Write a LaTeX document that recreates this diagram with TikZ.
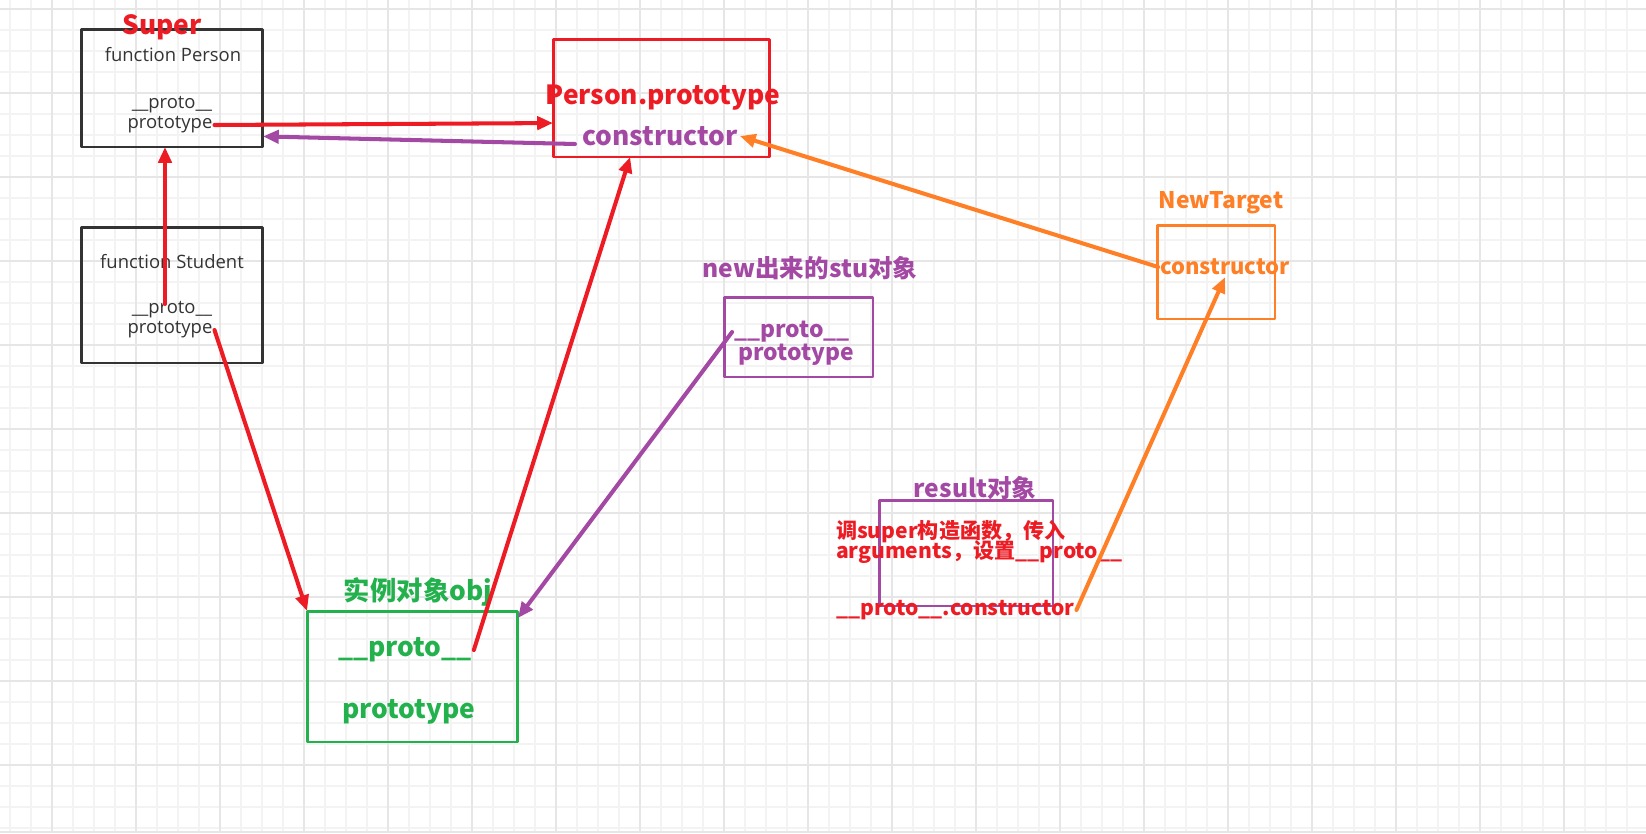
\documentclass[tikz,border=0pt]{standalone}
\usepackage{fontspec}
\setmainfont{Open Sans}
\newfontfamily\cjk{Noto Sans CJK SC}
\usepackage{tikz}
\usetikzlibrary{arrows.meta}
\definecolor{pred}{HTML}{ED1C24}
\definecolor{ppurple}{HTML}{A349A4}
\definecolor{porange}{HTML}{FF7F27}
\definecolor{pgreen}{HTML}{22B14C}
\definecolor{pgray}{HTML}{333333}
\definecolor{gminor}{HTML}{F3F3F3}
\definecolor{gmajor}{HTML}{E6E6E6}

\begin{document}
\begin{tikzpicture}[line cap=round,line join=round,x=0.02cm,y=-0.02cm,
    >={Triangle[length=9pt,width=7.5pt]},
    gridminor/.style={draw=gminor,line width=0.9pt,line cap=butt},
    gridmajor/.style={draw=gmajor,line width=0.9pt,line cap=butt},
    box/.style={draw,line width=1.7pt,inner sep=0pt,outer sep=0pt},
    plain/.style={text=pgray,inner sep=1pt,font=\fontsize{10.5pt}{12pt}\selectfont},
    bold/.style={inner sep=1pt,font=\cjk\bfseries\fontsize{#1}{#1}\selectfont},
    link/.style={->,line width=2.3pt}]
      \useasboundingbox (0,0) rectangle (1646,833);
      \begin{scope}
      \clip (0,0) rectangle (1646,833);
      \foreach \gx in {10,31,...,1646} \draw [gridminor] (\gx,0) -- (\gx,833);
      \foreach \gy in {9,30,...,833} \draw [gridminor] (0,\gy) -- (1646,\gy);
      \foreach \gx in {52,136,...,1646} \draw [gridmajor] (\gx,0) -- (\gx,833);
      \foreach \gy in {9,93,...,833} \draw [gridmajor] (0,\gy) -- (1646,\gy);
      \draw [gridmajor] (0,832) -- (1646,832);
      \end{scope}

      \node [box,draw=pgray,minimum width=3.64cm,minimum height=2.36cm] (person) at (172,88) {};
      \node [box,draw=pgray,minimum width=3.64cm,minimum height=2.72cm] (student) at (172,295) {};
      \node [box,draw=pred,minimum width=4.34cm,minimum height=2.36cm] (ppbox) at (661.5,98) {};
      \node [box,draw=ppurple,minimum width=2.98cm,minimum height=1.6cm] (stubox) at (798.5,337) {};
      \node [box,draw=porange,minimum width=2.36cm,minimum height=1.88cm] (ntbox) at (1216,272) {};
      \node [box,draw=ppurple,minimum width=3.48cm,minimum height=2.12cm] (resbox) at (966,553) {};
      \node [box,draw=pgreen,minimum width=4.22cm,minimum height=2.62cm] (objbox) at (412.5,676.5) {};

      \node [bold=15pt,text=pred] (super) at (162,27) {Super};
      \node [plain] (fperson) at (173,55) {function Person};
      \node [plain] (perproto) at (172,105) {\_\_proto\_\_};
      \node [plain] (perprot) at (170,125) {prototype};
      \node [plain] (fstudent) at (172,262) {function Student};
      \node [plain] (stuproto) at (172,310) {\_\_proto\_\_};
      \node [plain] (stuprot) at (170,330) {prototype};
      \node [bold=15pt,text=pred] (pptitle) at (663,98) {Person.prototype};
      \node [bold=15pt,text=ppurple] (ppcons) at (660,136) {constructor};
      \node [bold=14pt,text=ppurple] (stutitle) at (810,268) {new出来的stu对象};
      \node [bold=13pt,text=ppurple] (nsproto) at (792,332) {\_\_proto\_\_};
      \node [bold=13pt,text=ppurple] (nsprot) at (796,355) {prototype};
      \node [bold=13pt,text=porange] (nttitle) at (1221,203) {NewTarget};
      \node [bold=12.5pt,text=porange] (ntcons) at (1225,267) {constructor};
      \node [bold=14pt,text=ppurple] (restitle) at (975,488) {result对象};
      \node [bold=12pt,text=pred,anchor=west] (resline1) at (834,532) {调super构造函数，传入};
      \node [bold=12pt,text=pred,anchor=west] (resline2) at (834,552) {arguments，设置\_\_proto\_\_};
      \node [bold=12pt,text=pred,anchor=west] (rescons) at (834,610) {\_\_proto\_\_.constructor};
      \node [bold=15pt,text=pgreen] (objtitle) at (418,592) {实例对象obj};
      \node [bold=15pt,text=pgreen] (objproto) at (405,650) {\_\_proto\_\_};
      \node [bold=15pt,text=pgreen] (objprot) at (409,712) {prototype};

      \coordinate (stuup) at (165,304);
      \coordinate (consback) at (575,144);

      \draw [link,pred] (perprot.east) -- (ppbox.193);
      \draw [link,ppurple] (consback) -- (person.332);
      \draw [link,pred] (stuup) -- (stuup |- person.south);
      \draw [link,pred] (stuprot.east) -- (objbox.north west);
      \draw [link,pred] (objproto.east) -- (ppbox.242);
      \draw [link,ppurple] (nsproto.west) -- (objbox.29);
      \draw [link,porange] (ntcons.west) -- (ppcons.east);
      \draw [link,porange] (rescons.east) -- (ntcons.south);
\end{tikzpicture}
\end{document}
